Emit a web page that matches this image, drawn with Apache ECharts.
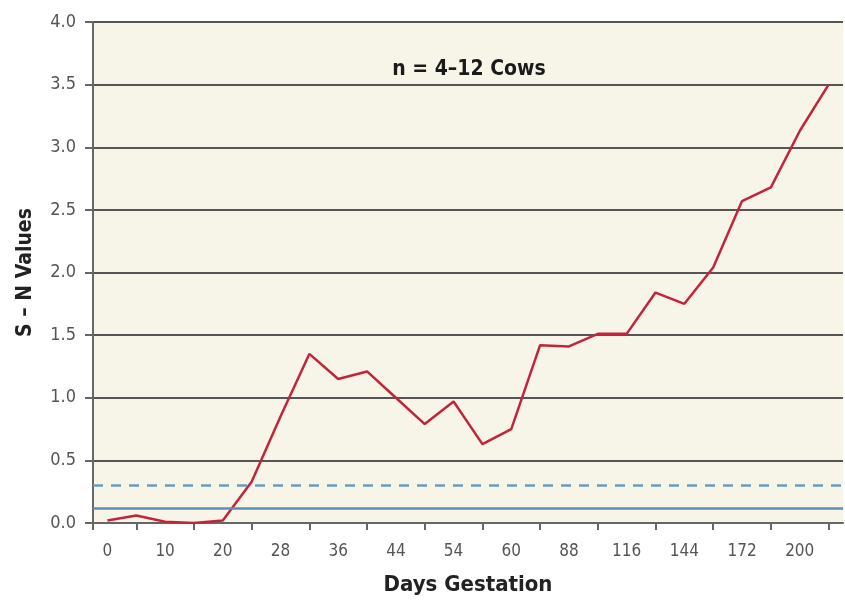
<!DOCTYPE html>
<html><head><meta charset="utf-8">
<script src="https://cdn.jsdelivr.net/npm/echarts@6/dist/echarts.min.js"></script>
<style>html,body{margin:0;padding:0;background:#fff}#c{width:845px;height:600px}</style>
</head><body><div id="c"></div>
<script>
const tickLabels = ['0','10','20','28','36','44','54','60','88','116','144','172','200'];
// two readings per labelled interval (at label and midway to next)
const snValues = [0.02,0.06,0.01,0.00,0.02,0.33,0.85,1.35,1.15,1.21,1.00,0.79,0.97,0.63,0.75,1.42,1.41,1.51,1.51,1.84,1.75,2.04,2.57,2.68,3.13,3.50];
const cutoffSolid = 0.12;
const cutoffDashed = 0.30;
const titleText = 'n = 4–12 Cows';

const seriesData = snValues.map((v, i) => [i, v]);
const labelPos = tickLabels.map((l, i) => i * 2);
const tickPos = [-0.5].concat(tickLabels.map((l, i) => i * 2 + 1));
const font = '"Liberation Sans Narrow","DejaVu Sans Condensed","Roboto",sans-serif';
const chart = echarts.init(document.getElementById('c'));
chart.setOption({
  animation: false,
  title: { text: titleText, left: 464, top: 54, textAlign: 'center',
    textStyle: { fontFamily: font, fontSize: 21, fontWeight: 'bold', color: '#1a1a1a' } },
  grid: { left: 93, right: 2, top: 22, bottom: 77, outerBoundsMode: 'none', containLabel: false,
    show: true, backgroundColor: '#f7f5e8', borderWidth: 0 },
  xAxis: {
    type: 'value', min: -0.5, max: snValues.length - 0.5,
    name: 'Days Gestation', nameLocation: 'middle', nameGap: 51,
    nameTextStyle: { fontFamily: font, fontSize: 22, fontWeight: 'bold', color: '#222' },
    axisLine: { onZero: false, lineStyle: { color: '#666', width: 2 } },
    axisTick: { show: true, customValues: tickPos, length: 7, lineStyle: { color: '#666', width: 2 } },
    axisLabel: { customValues: labelPos, formatter: (v) => tickLabels[Math.round(v) / 2], margin: 20,
      fontFamily: font, fontSize: 17, color: '#555', showMinLabel: true, showMaxLabel: true },
    splitLine: { show: false }
  },
  yAxis: {
    type: 'value', min: 0, max: 4, interval: 0.5,
    name: 'S – N Values', nameLocation: 'middle', nameGap: 57, nameRotate: 90,
    nameTextStyle: { fontFamily: font, fontSize: 21, fontWeight: 'bold', color: '#222' },
    axisLine: { show: true, onZero: false, lineStyle: { color: '#666', width: 2 } },
    axisTick: { show: true, length: 8, lineStyle: { color: '#666', width: 2 } },
    axisLabel: { formatter: (v) => v.toFixed(1), margin: 17, fontFamily: font, fontSize: 18, color: '#555' },
    splitLine: { lineStyle: { color: '#555', width: 2 } }
  },
  series: [{
    type: 'line', data: seriesData, symbol: 'none',
    lineStyle: { color: '#c3243b', width: 2.5 },
    markLine: {
      silent: true, symbol: 'none', label: { show: false },
      data: [
        { yAxis: cutoffSolid, lineStyle: { color: '#5e8fb2', width: 2.5, type: 'solid' } },
        { yAxis: cutoffDashed, lineStyle: { color: '#6b9bbd', width: 2.5, type: [10, 8] } }
      ]
    }
  }]
});
</script></body></html>
